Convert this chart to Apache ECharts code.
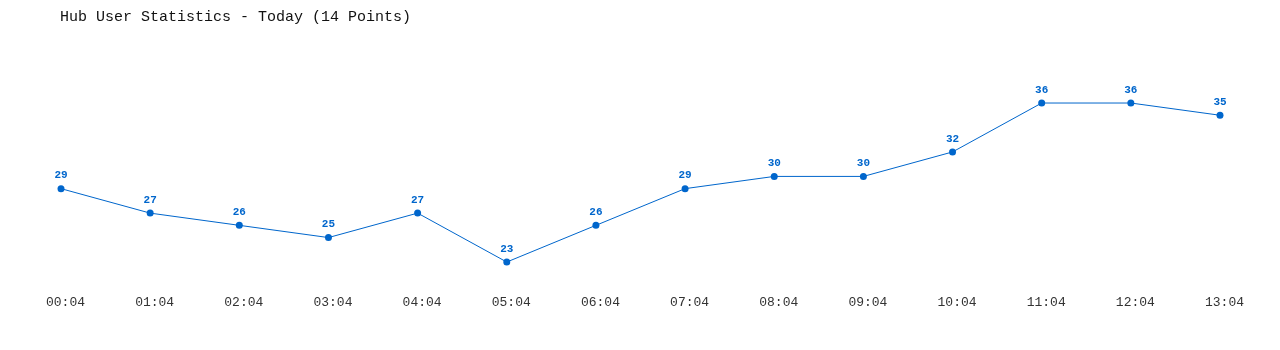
<!DOCTYPE html>
<html><head><meta charset="utf-8">
<script src="https://cdn.jsdelivr.net/npm/echarts@6/dist/echarts.min.js"></script>
<style>html,body{margin:0;padding:0;background:#fff}#c{width:1280px;height:350px}</style>
</head><body><div id="c"></div>
<script>
const titleText = 'Hub User Statistics - Today (14 Points)';
const categories = ['00:04','01:04','02:04','03:04','04:04','05:04','06:04','07:04','08:04','09:04','10:04','11:04','12:04','13:04'];
const users = [29,27,26,25,27,23,26,29,30,30,32,36,36,35];

const chart = echarts.init(document.getElementById('c'));
chart.setOption({
  animation: false,
  backgroundColor: '#ffffff',
  title: {
    text: titleText, left: 60, top: 10, padding: 0,
    textStyle: { fontFamily: 'Liberation Mono', fontSize: 15, fontWeight: 'normal', color: '#111' }
  },
  grid: { left: 61, right: 60, top: 54.1, bottom: 63.5 },
  xAxis: {
    type: 'category', data: categories, boundaryGap: false,
    axisLine: { show: false }, axisTick: { show: false }, splitLine: { show: false },
    axisLabel: { fontFamily: 'Liberation Mono', fontSize: 13, color: '#333', margin: 10, padding: [0,0,0,9] }
  },
  yAxis: {
    type: 'value', min: 21, max: 40, show: false, splitLine: { show: false }
  },
  series: [{
    type: 'line', data: users,
    symbol: 'circle', symbolSize: 7,
    lineStyle: { color: '#0066cc', width: 1 },
    itemStyle: { color: '#0066cc' },
    label: { show: true, position: 'top', distance: 4, color: '#0066cc',
      fontFamily: 'Liberation Mono', fontSize: 11, fontWeight: 'bold' }
  }]
});
</script></body></html>
